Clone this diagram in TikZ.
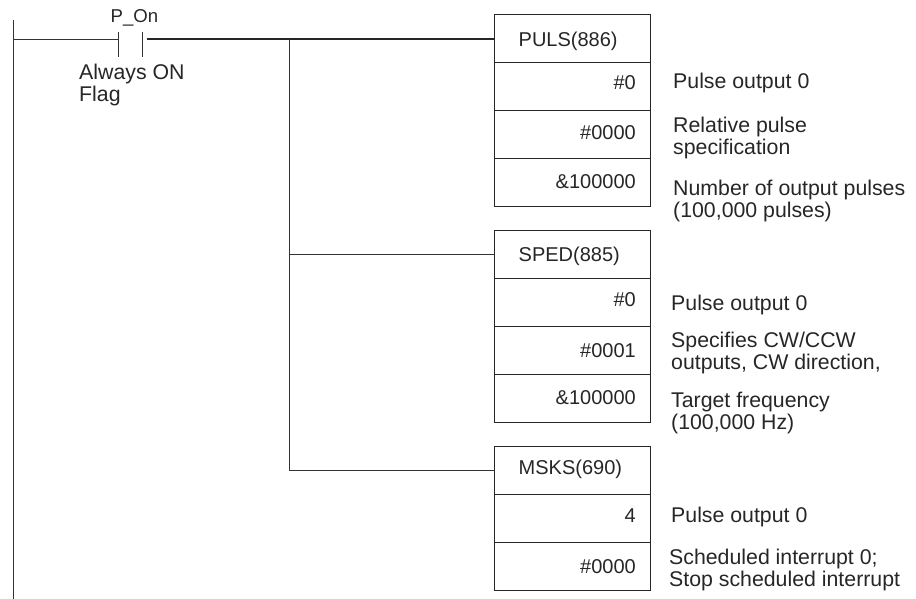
\documentclass[tikz,border=0pt]{standalone}
\usepackage{fontspec}
\setmainfont{Liberation Sans}
\tikzset{
  x=1pt,y=-1pt,
  wire/.style={line width=1pt,color=black!80},
  heavy wire/.style={line width=2pt,color=black!85},
  cell/.style={draw=black!85,line width=1pt,minimum width=156pt,minimum height=48pt,inner sep=0pt,outer sep=0pt},
  instr/.style={font=\fontsize{20pt}{22pt}\selectfont,text=black!85,anchor=base west,inner sep=0pt},
  val/.style={font=\fontsize{20pt}{22pt}\selectfont,text=black!85,anchor=base east,inner sep=0pt},
  note/.style={font=\fontsize{21.3pt}{21.8pt}\selectfont,text=black!85,anchor=base west,inner sep=0pt},
}
\begin{document}
\begin{tikzpicture}
\useasboundingbox (0,0) rectangle (916,599);
% rail
\coordinate (railtop) at (13.5,20);
\coordinate (railbot) at (13.5,599);
\draw[wire] (railtop) -- (railbot);
% contact
\coordinate (c1t) at (118.5,32); \coordinate (c1b) at (118.5,57);
\coordinate (c2t) at (142.5,32); \coordinate (c2b) at (142.5,57);
\coordinate (c1m) at (118.5,39.5); \coordinate (c3m) at (147,39);
\coordinate (railm) at (13.5,39.5);
\coordinate (j1) at (289.5,39);
\draw[wire] (c1t) -- (c1b);
\draw[wire] (c2t) -- (c2b);
\draw[wire] (railm) -- (c1m);
\node[font=\fontsize{18.6pt}{20pt}\selectfont,text=black!85,anchor=base,inner sep=0pt] (pon) at (134.5,23) {P\_On};
\node[note] (flag1) at (79,80) {Always ON};
\node[note] (flag2) at (79,102) {Flag};
% boxes
\foreach \n/\y/\b/\t in {a/38.5/47/PULS(886),b/254.5/261/SPED(885),c/470.5/474/MSKS(690)}{
  \node[cell] (\n0) at (572.5,\y) {};
  \node[instr] (\n0t) at (518.5,\b) {\t};
}
\foreach \n/\k/\y/\b/\t in {a/1/86.5/90/\#0,a/2/134.5/140/\#0000,a/3/182.5/189/\&100000,
  b/1/302.5/306/\#0,b/2/350.5/357/\#0001,b/3/398.5/404/\&100000,
  c/1/518.5/522/4,c/2/566.5/573/\#0000}{
  \node[cell] (\n\k) at (572.5,\y) {};
  \node[val] (\n\k t) at (636,\b) {\t};
}
% connectors
\draw[heavy wire] (c3m) -- (c3m -| a0.west);
\draw[wire] (j1) |- (b0.west);
\draw[wire] (j1) |- (c0.west);
% notes
\node[note] (n1) at (673,89) {Pulse output 0};
\node[note] (n2a) at (673,133) {Relative pulse};
\node[note] (n2b) at (673,155) {specification};
\node[note] (n3a) at (673,196) {Number of output pulses};
\node[note] (n3b) at (673,218) {(100,000 pulses)};
\node[note] (n4) at (671,310) {Pulse output 0};
\node[note] (n5a) at (671,347) {Specifies CW/CCW};
\node[note] (n5b) at (671,369) {outputs, CW direction,};
\node[note] (n6a) at (671,407) {Target frequency};
\node[note] (n6b) at (671,429) {(100,000 Hz)};
\node[note] (n7) at (671,522) {Pulse output 0};
\node[note] (n8a) at (669,564.5) {Scheduled interrupt 0;};
\node[note] (n8b) at (669,586) {Stop scheduled interrupt};
\end{tikzpicture}
\end{document}
